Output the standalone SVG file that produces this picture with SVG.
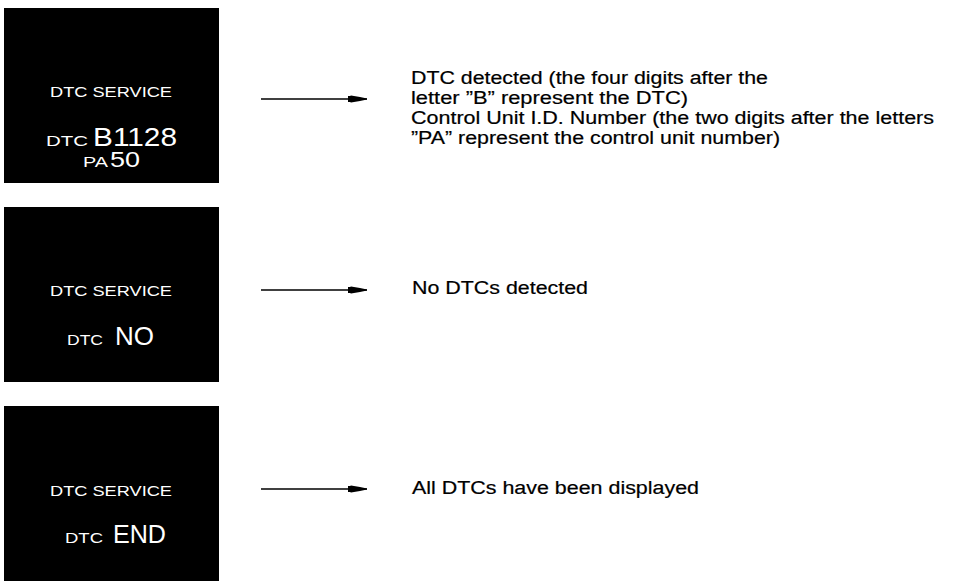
<svg xmlns="http://www.w3.org/2000/svg" width="960" height="586" viewBox="0 0 960 586">
<defs>
<style>
.panel{fill:#000}
text{font-family:"Liberation Sans",Arial,sans-serif}
.svc{font-size:15.5px;fill:#fff}
.sm{font-size:14px;fill:#fff}
.big{font-size:25px;fill:#fff}
.mid{font-size:22px;fill:#fff}
.desc{font-size:18px;fill:#000;stroke:#000;stroke-width:0.2}
.conn{stroke:#000;stroke-width:1.3;fill:none}
</style>
<marker id="ah" markerUnits="userSpaceOnUse" markerWidth="20" markerHeight="10" refX="19" refY="5" orient="auto">
<polygon points="0,2 2,2 3,1.5 12,3 19,4.5 19,5.5 12,7 3,8.5 2,8 0,8" fill="#000"/>
</marker>
</defs>
<g id="panel1">
<rect class="panel" x="4" y="8" width="215" height="175"/>
<text class="svc" x="50" y="97" textLength="122" lengthAdjust="spacingAndGlyphs">DTC SERVICE</text>
<text class="sm" x="46" y="146" textLength="42" lengthAdjust="spacingAndGlyphs">DTC</text>
<text class="big" x="93" y="146" textLength="84" lengthAdjust="spacingAndGlyphs">B1128</text>
<text class="sm" x="83" y="167" textLength="25" lengthAdjust="spacingAndGlyphs">PA</text>
<text class="mid" x="110" y="167" textLength="30" lengthAdjust="spacingAndGlyphs">50</text>
</g>
<g id="panel2">
<rect class="panel" x="4" y="207" width="215" height="175"/>
<text class="svc" x="50" y="296" textLength="122" lengthAdjust="spacingAndGlyphs">DTC SERVICE</text>
<text class="sm" x="67" y="345" textLength="36" lengthAdjust="spacingAndGlyphs">DTC</text>
<text class="big" x="115" y="345" textLength="39" lengthAdjust="spacingAndGlyphs">NO</text>
</g>
<g id="panel3">
<rect class="panel" x="4" y="406" width="215" height="175"/>
<text class="svc" x="50" y="496" textLength="122" lengthAdjust="spacingAndGlyphs">DTC SERVICE</text>
<text class="sm" x="65" y="543" textLength="38" lengthAdjust="spacingAndGlyphs">DTC</text>
<text class="big" x="113" y="543" textLength="53" lengthAdjust="spacingAndGlyphs">END</text>
</g>
<g id="connectors">
<line class="conn" x1="261" y1="99" x2="367" y2="99" marker-end="url(#ah)"/>
<line class="conn" x1="261" y1="290" x2="367" y2="290" marker-end="url(#ah)"/>
<line class="conn" x1="261" y1="489" x2="367" y2="489" marker-end="url(#ah)"/>
</g>
<g id="desc1">
<text class="desc" x="411" y="84" textLength="357" lengthAdjust="spacingAndGlyphs">DTC detected (the four digits after the</text>
<text class="desc" x="411" y="104" textLength="277" lengthAdjust="spacingAndGlyphs">letter ”B” represent the DTC)</text>
<text class="desc" x="411" y="124" textLength="523" lengthAdjust="spacingAndGlyphs">Control Unit I.D. Number (the two digits after the letters</text>
<text class="desc" x="411" y="144" textLength="369" lengthAdjust="spacingAndGlyphs">”PA” represent the control unit number)</text>
</g>
<g id="desc2">
<text class="desc" x="412" y="294" textLength="176" lengthAdjust="spacingAndGlyphs">No DTCs detected</text>
</g>
<g id="desc3">
<text class="desc" x="412" y="494" textLength="287" lengthAdjust="spacingAndGlyphs">All DTCs have been displayed</text>
</g>
</svg>
